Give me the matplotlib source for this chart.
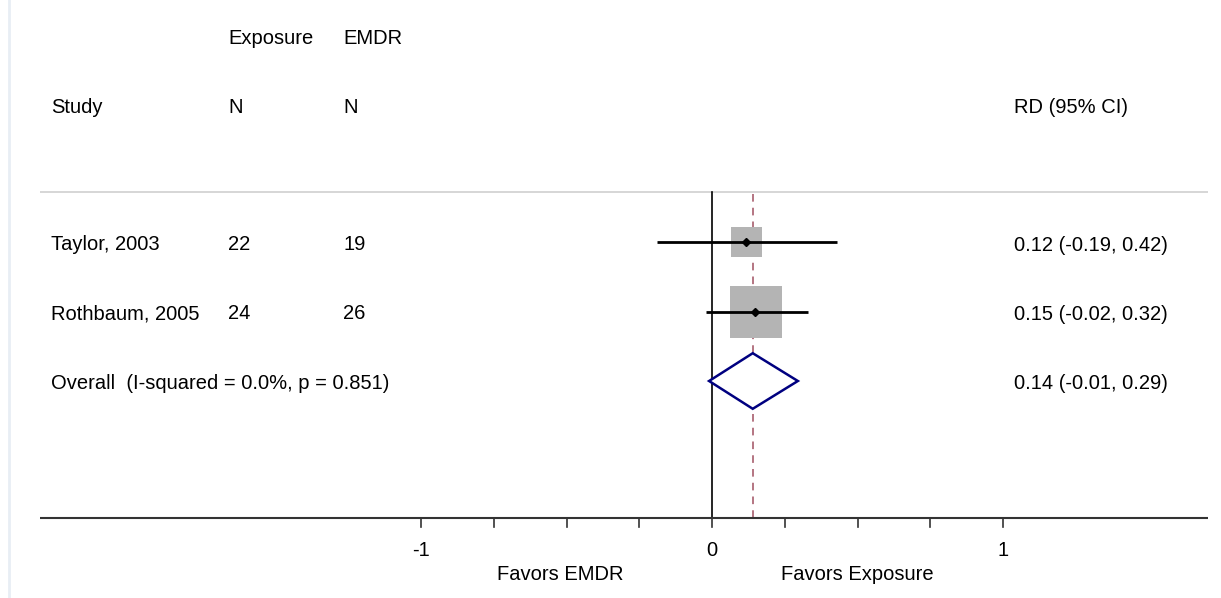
import matplotlib.pyplot as plt
from matplotlib.patches import Rectangle, Polygon

plt.rcParams['font.family'] = ['Liberation Sans', 'DejaVu Sans']

# data
studies = ["Taylor, 2003", "Rothbaum, 2005"]
n_exposure = [22, 24]
n_emdr = [19, 26]
rd = [0.12, 0.15]
ci_low = [-0.19, -0.02]
ci_high = [0.42, 0.32]
weights = [26.2, 73.8]
overall_label = "Overall  (I-squared = 0.0%, p = 0.851)"
overall_rd = 0.14
overall_low = -0.01
overall_high = 0.29
tick_vals = [-1, -0.75, -0.5, -0.25, 0, 0.25, 0.5, 0.75, 1]
tick_labels = ["-1", "", "", "", "0", "", "", "", "1"]

fig = plt.figure(figsize=(12.21, 5.98), dpi=100)
ax = fig.add_axes([0, 0, 1, 1])
# x: 0 at pixel 712, 291 px per unit; y: row units, 69.5 px per row
px = 291.0
ry = 69.5
ax.set_xlim(-712 / px, (1221 - 712) / px)
ax.set_ylim(1 + (598 - 242) / ry, 1 - 242 / ry)
ax.axis("off")

fs = 14.5
x_study = (51 - 712) / px
x_nexp = (228 - 712) / px
x_nemdr = (343 - 712) / px
x_rd = (1014 - 712) / px
x_left = (40 - 712) / px
x_right = (1208 - 712) / px

# headers
ax.text(x_nexp, -1.93, "Exposure", fontsize=fs, va="center")
ax.text(x_nemdr, -1.93, "EMDR", fontsize=fs, va="center")
ax.text(x_study, -0.94, "Study", fontsize=fs, va="center")
ax.text(x_nexp, -0.94, "N", fontsize=fs, va="center")
ax.text(x_nemdr, -0.94, "N", fontsize=fs, va="center")
ax.text(x_rd, -0.94, "RD (95% CI)", fontsize=fs, va="center")

y_top = 1 + (192 - 242) / ry
y_axis = 1 + (518 - 242) / ry
ax.plot([x_left, x_right], [y_top, y_top], color="#d0d0d0", lw=1.2, solid_capstyle="butt")

# faint left border
ax.plot([(8.5 - 712) / px] * 2, [1 - 242 / ry, 1 + (598 - 242) / ry], color="#e8eef4", lw=2)

# null line and overall dashed line
ax.plot([0, 0], [y_top, y_axis], color="black", lw=1.2)
ax.plot([overall_rd, overall_rd], [y_top + 0.03, y_axis], color="#a05060", lw=1.1,
        dashes=(5, 4))

# studies
max_side = 52.0
for i, name in enumerate(studies):
    y = i + 1
    side = max_side * (weights[i] / max(weights)) ** 0.5
    w = side / px
    h = side / ry
    ax.add_patch(Rectangle((rd[i] - w / 2, y - h / 2), w, h, facecolor="#b4b4b4",
                           edgecolor="none", zorder=2))
    ax.plot([ci_low[i], ci_high[i] + 0.01], [y, y], color="black", lw=2, zorder=3,
            solid_capstyle="butt")
    ax.plot(rd[i] - 0.003, y, "D", color="black", ms=4.5, zorder=4)
    ax.text(x_study, y + 0.03, name, fontsize=fs, va="center")
    ax.text(x_nexp, y + 0.03, str(n_exposure[i]), fontsize=fs, va="center")
    ax.text(x_nemdr, y + 0.03, str(n_emdr[i]), fontsize=fs, va="center")
    ax.text(x_rd, y + 0.05, "%.2f (%.2f, %.2f)" % (rd[i], ci_low[i], ci_high[i]),
            fontsize=fs, va="center")

# overall diamond
yo = len(studies) + 1
dh = 0.4
ax.add_patch(Polygon([[overall_low, yo], [overall_rd, yo - dh], [overall_high + 0.005, yo],
                      [overall_rd, yo + dh]], closed=True, facecolor="white",
                     edgecolor="#000080", lw=1.8, zorder=3))
ax.text(x_study, yo + 0.03, overall_label, fontsize=fs, va="center")
ax.text(x_rd, yo + 0.03, "%.2f (%.2f, %.2f)" % (overall_rd, overall_low, overall_high),
        fontsize=fs, va="center")

# x axis
ax.plot([x_left, x_right], [y_axis, y_axis], color="#333333", lw=1.5, solid_capstyle="butt")
tick_len = 9 / ry
for t, lab in zip(tick_vals, tick_labels):
    ax.plot([t, t], [y_axis, y_axis + tick_len], color="#333333", lw=1.2)
    if lab:
        ax.text(t, 1 + (550 - 242) / ry, lab, fontsize=fs, ha="center", va="center")
ax.text(-0.52, 1 + (575 - 242) / ry, "Favors EMDR", fontsize=fs, ha="center", va="center")
ax.text(0.5, 1 + (575 - 242) / ry, "Favors Exposure", fontsize=fs, ha="center", va="center")

fig.savefig("out.png", dpi=100)
